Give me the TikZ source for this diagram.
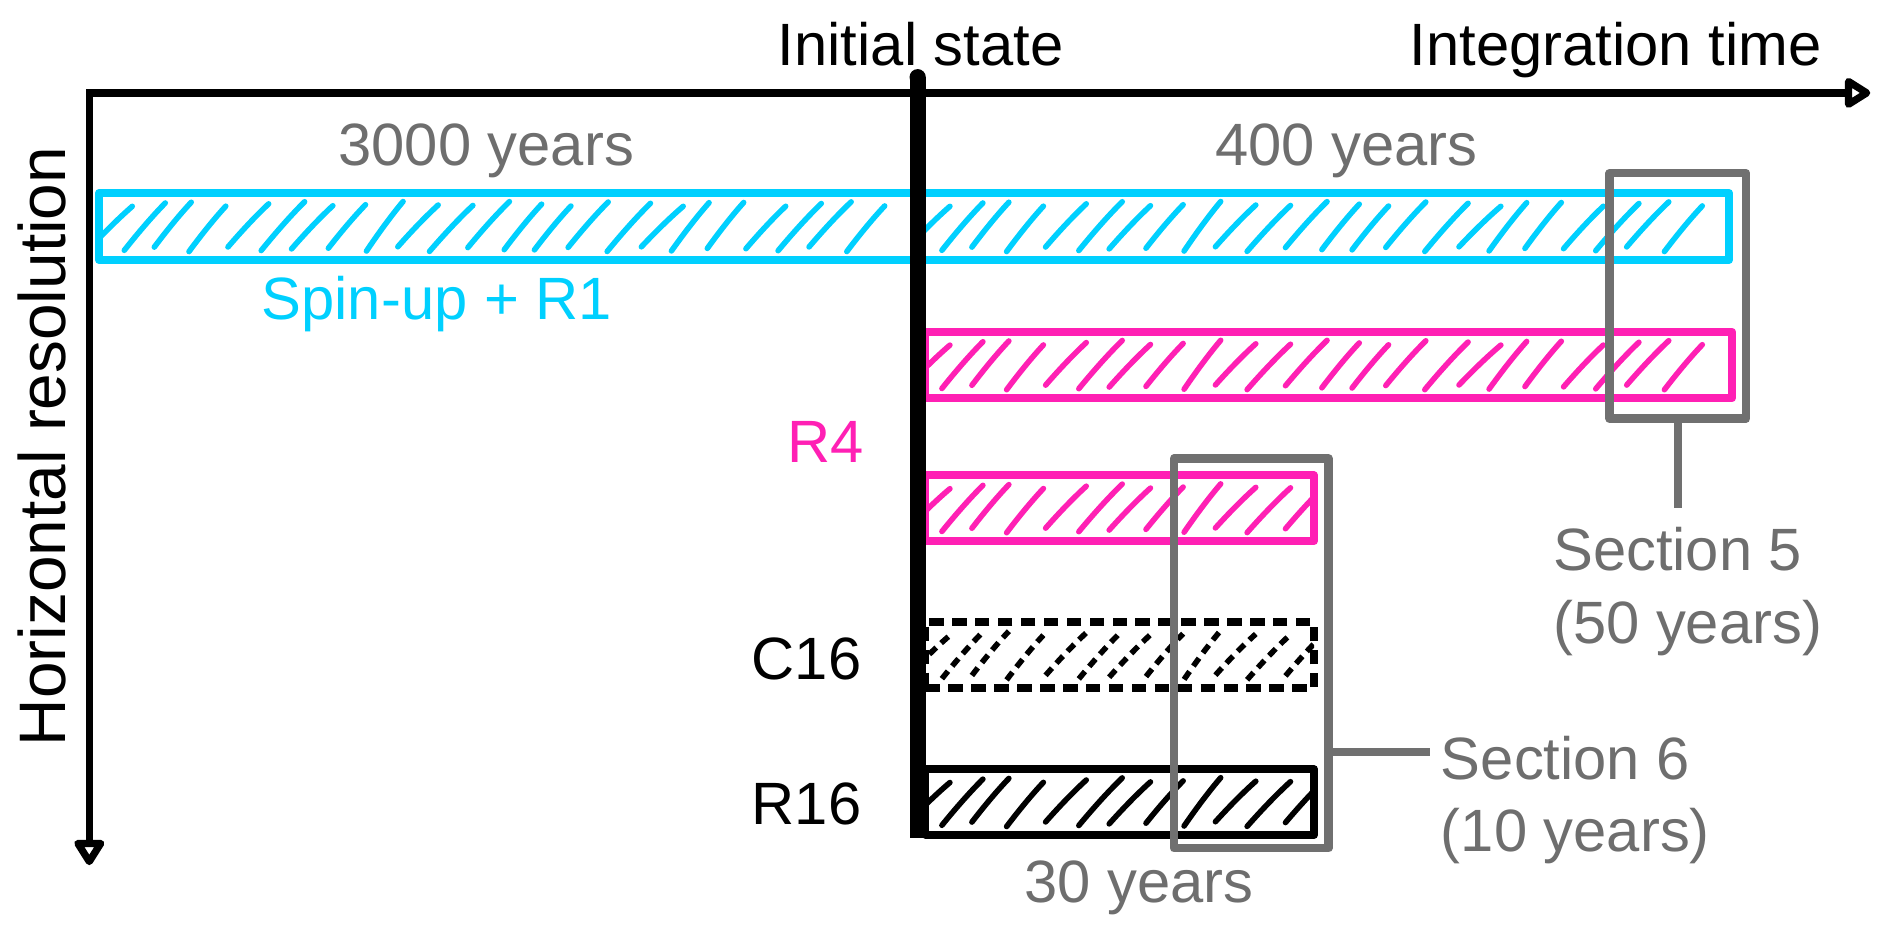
\documentclass[tikz,border=0pt]{standalone}
\usepackage{fontspec}
\setmainfont{Liberation Sans}
\usetikzlibrary{arrows.meta}
\definecolor{cyanc}{RGB}{0,208,255}
\definecolor{pinkc}{RGB}{255,32,180}
\definecolor{grayc}{RGB}{112,112,112}
\definecolor{graytxt}{RGB}{110,110,110}
% #1 first x, #2 spacing, #3 last index, #4 interior top y, #5 interior bottom y, #6 style
\newcommand{\hatchrow}[6]{%
  \foreach \i in {0,...,#3}{%
    \pgfmathsetmacro{\hx}{#1+#2*\i+2.5*sin(\i*97+30)}%
    \pgfmathsetmacro{\hdx}{33+3*cos(\i*71)}%
    \pgfmathsetmacro{\hya}{#5-6+2*sin(\i*151)}%
    \pgfmathsetmacro{\hyb}{#4+6+2*cos(\i*113)}%
    \pgfmathsetmacro{\hdy}{\hya-\hyb}%
    \draw[#6] ({\hx},{\hya}) .. controls ({\hx+0.3*\hdx},{\hya-0.33*\hdy}) and ({\hx+0.66*\hdx},{\hyb+0.3*\hdy}) .. ({\hx+\hdx},{\hyb});
  }%
}
\begin{document}
\begin{tikzpicture}[x=1pt,y=-1pt,
  lbl/.style={font=\fontsize{49.5}{60}\selectfont, inner sep=0pt},
  axisline/.style={line width=6pt, line join=miter},
  bar/.style={rectangle, inner sep=0pt, outer sep=0pt, anchor=north west, line width=6.5pt, line join=round},
  graybox/.style={rectangle, inner sep=0pt, outer sep=0pt, anchor=north west, draw=grayc, line width=7pt, line join=round},
  grayline/.style={draw=grayc, line width=7pt},
  hcyan/.style={cyanc, line width=4.6pt, line cap=round},
  hpink/.style={pinkc, line width=4.6pt, line cap=round},
  hblack/.style={black, line width=4.6pt, line cap=round},
  hdash/.style={black, line width=4.6pt, dash pattern=on 8pt off 5.5pt},
]
\useasboundingbox (0,0) rectangle (1568,775);

% axes
\coordinate (origin) at (74,77);
\coordinate (xtip) at (1550,77);
\coordinate (ytip) at (74,717);
\draw[axisline, {Triangle[open,length=24pt,width=28pt,line join=round]}-{Triangle[open,length=24pt,width=28pt,line join=round]}] (ytip) -- (origin) -- (xtip);

% texts
\node[lbl, anchor=base] (init) at (763,54) {Initial state};
\node[lbl, anchor=base] (integ) at (1339,54) {Integration time};
\node[lbl, anchor=center, rotate=90, font=\fontsize{54.5}{60}\selectfont] (hres) at (35,370) {Horizontal resolution};
\node[lbl, anchor=base, text=graytxt] (y3000) at (403,137) {3000 years};
\node[lbl, anchor=base, text=graytxt] (y400) at (1116,137) {400 years};
\node[lbl, anchor=base, text=graytxt] (y30) at (944,748) {30 years};

% spin-up + R1
\node[bar, draw=cyanc, minimum width=1351pt, minimum height=55.5pt] (spin) at (82,160) {};
\begin{scope}
  \clip (spin.south west) rectangle (754,160);
  \hatchrow{72.4}{28.6}{22}{163}{212.5}{hcyan}
\end{scope}
\begin{scope}
  \clip (767,215.5) rectangle (spin.north east);
  \hatchrow{750}{28.6}{22}{163}{212.5}{hcyan}
\end{scope}
\node[lbl, anchor=base, text=cyanc] (spinlab) at (362,265) {Spin-up + R1};

% R4 long
\node[bar, draw=pinkc, minimum width=668.5pt, minimum height=55pt] (r4long) at (767,275) {};
\begin{scope}
  \clip (r4long.south west) rectangle (r4long.north east);
  \hatchrow{750}{28.6}{22}{278}{327}{hpink}
\end{scope}
\node[lbl, anchor=base east, text=pinkc] (r4lab) at (716,383) {R4};

% R4 short
\node[bar, draw=pinkc, minimum width=322pt, minimum height=54.5pt] (r4short) at (767,394) {};
\begin{scope}
  \clip (r4short.south west) rectangle (r4short.north east);
  \hatchrow{750}{28.6}{11}{397}{445.5}{hpink}
\end{scope}

% C16
\node[bar, draw=black, dash pattern=on 12pt off 7pt, minimum width=322pt, minimum height=55pt] (c16) at (767,515.5) {};
\begin{scope}
  \clip (c16.south west) rectangle (c16.north east);
  \hatchrow{750}{28.6}{11}{518.5}{567.5}{hdash}
\end{scope}
\node[lbl, anchor=base east] (c16lab) at (714,563) {C16};

% R16
\node[bar, draw=black, minimum width=322pt, minimum height=54.5pt] (r16) at (767,637.5) {};
\begin{scope}
  \clip (r16.south west) rectangle (r16.north east);
  \hatchrow{750}{28.6}{11}{640.5}{689}{hblack}
\end{scope}
\node[lbl, anchor=base east] (r16lab) at (714,683) {R16};

% initial state line
\coordinate (inittop) at (760.5,64);
\coordinate (initbot) at (760.5,694.5);
\draw[line width=13.5pt] (inittop) -- (initbot);
\fill (inittop) circle (6.75pt);

% gray section boxes
\node[graybox, minimum width=113pt, minimum height=203.5pt] (s5box) at (1334,143.5) {};
\node[graybox, minimum width=128pt, minimum height=323pt] (s6box) at (973,380) {};
\coordinate (s5end) at (1390.5,421);
\coordinate (s6end) at (1185,623);
\draw[grayline] (s5box.south) -- (s5end);
\draw[grayline] (s6end -| s6box.east) -- (s6end);
\node[lbl, anchor=north west, align=left, text=graytxt] (s5lab) at (1287,437) {Section 5\\(50 years)};
\node[lbl, anchor=north west, align=left, text=graytxt] (s6lab) at (1194,610) {Section 6\\(10 years)};
\end{tikzpicture}
\end{document}
